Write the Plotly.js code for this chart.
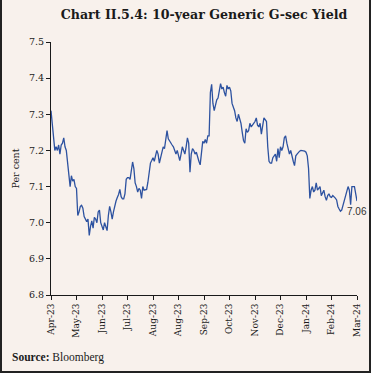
<!DOCTYPE html>
<html>
<head>
<meta charset="utf-8">
<script src="https://cdn.plot.ly/plotly-3.0.1.min.js"></script>
<style>
html, body { margin: 0; padding: 0; background: #f8f1ec; }
#wrap { position: relative; width: 371px; height: 373px; }
#chart { position: absolute; left: 0; top: 0; width: 371px; height: 373px; }
#frame { position: absolute; left: 0; top: 0; width: 371px; height: 373px; box-sizing: border-box;
  border-left: 2px solid #222; border-right: 2px solid #222; border-bottom: 2px solid #222; pointer-events: none; }
</style>
</head>
<body>
<div id="wrap"><div id="chart"></div><div id="frame"></div></div>
<script>
// Tick labels (as printed on the original chart, evenly spaced along the trading-day axis)
const tickLabels = ["Apr-23","May-23","Jun-23","Jul-23","Aug-23","Aug-23","Sep-23","Oct-23","Nov-23","Dec-23","Jan-24","Feb-24","Mar-24"];

// 10-year generic G-sec yield (per cent), one value per trading day, Apr-2023 to Mar-2024
const yieldValues = [
7.31,7.27,7.23,7.20,7.21,7.20,7.215,7.19,7.215,7.22,
7.235,7.21,7.20,7.17,7.14,7.10,7.13,7.115,7.12,7.10,
7.095,7.02,7.03,7.045,7.048,7.04,7.017,7.01,7.003,7.01,
6.965,6.99,7.005,6.985,7.015,7.01,7.00,7.03,7.035,7.00,
6.99,6.98,7.00,6.99,6.978,7.02,7.045,7.03,7.01,7.03,
7.05,7.06,7.07,7.078,7.092,7.072,7.066,7.066,7.08,7.12,
7.125,7.125,7.12,7.15,7.168,7.15,7.11,7.10,7.085,7.095,
7.09,7.067,7.10,7.09,7.09,7.092,7.112,7.14,7.165,7.172,
7.18,7.17,7.19,7.20,7.19,7.165,7.18,7.195,7.21,7.205,
7.23,7.255,7.232,7.225,7.22,7.215,7.21,7.20,7.19,7.20,
7.185,7.172,7.19,7.21,7.20,7.19,7.21,7.235,7.22,7.14,
7.19,7.205,7.20,7.19,7.195,7.18,7.17,7.16,7.19,7.225,
7.22,7.23,7.22,7.24,7.24,7.36,7.383,7.33,7.31,7.33,
7.34,7.345,7.37,7.385,7.37,7.375,7.36,7.35,7.38,7.37,
7.375,7.365,7.33,7.32,7.31,7.29,7.28,7.30,7.29,7.275,
7.25,7.227,7.22,7.26,7.25,7.255,7.275,7.265,7.27,7.275,
7.28,7.29,7.27,7.265,7.275,7.245,7.275,7.29,7.285,7.28,
7.21,7.17,7.165,7.165,7.18,7.185,7.19,7.17,7.205,7.18,
7.21,7.20,7.21,7.235,7.24,7.22,7.20,7.19,7.20,7.18,
7.17,7.158,7.185,7.19,7.195,7.198,7.20,7.20,7.20,7.198,
7.195,7.185,7.15,7.067,7.09,7.10,7.085,7.09,7.11,7.09,
7.095,7.10,7.075,7.085,7.09,7.072,7.062,7.075,7.08,7.072,
7.07,7.075,7.072,7.068,7.063,7.045,7.038,7.032,7.035,7.048,
7.06,7.068,7.085,7.10,7.09,7.05,7.10,7.10,7.10,7.08,
7.06
];
const lastLabel = "7.06";

const dayIndex = yieldValues.map((_, i) => i);
const n = yieldValues.length;
const tickVals = tickLabels.map((_, k) => k * (n - 1) / (tickLabels.length - 1));

const serif = "DejaVu Serif, serif";

const trace = {
  x: dayIndex,
  y: yieldValues,
  type: "scatter",
  mode: "lines",
  line: { color: "#2d52a0", width: 1.3 },
  hoverinfo: "skip"
};

const layout = {
  width: 371,
  height: 373,
  paper_bgcolor: "#f8f1ec",
  plot_bgcolor: "#f8f1ec",
  margin: { l: 51, r: 14, t: 42, b: 78 },
  showlegend: false,
  title: {
    text: "<b>Chart II.5.4: 10-year Generic G-sec Yield</b>",
    font: { family: serif, size: 12.6, color: "#1a1a1a" },
    x: 0.5, xanchor: "center", y: 0.962, yanchor: "middle", xref: "paper"
  },
  xaxis: {
    range: [0, n - 1],
    tickmode: "array",
    tickvals: tickVals,
    ticktext: tickLabels,
    tickangle: -90,
    ticks: "outside",
    ticklen: 4,
    tickcolor: "#1a1a1a",
    tickfont: { family: serif, size: 9, color: "#1a1a1a" },
    showline: true,
    linecolor: "#1a1a1a",
    linewidth: 1,
    showgrid: false,
    zeroline: false,
    fixedrange: true
  },
  yaxis: {
    range: [6.8, 7.5],
    tickvals: [6.8, 6.9, 7.0, 7.1, 7.2, 7.3, 7.4, 7.5],
    tickformat: ".1f",
    ticks: "outside",
    ticklen: 4,
    tickcolor: "#1a1a1a",
    tickfont: { family: serif, size: 9.5, color: "#1a1a1a" },
    showline: true,
    linecolor: "#1a1a1a",
    linewidth: 1,
    showgrid: false,
    zeroline: false,
    fixedrange: true,
    title: { text: "Per cent", font: { family: serif, size: 9.5, color: "#1a1a1a" }, standoff: 7 }
  },
  annotations: [
    {
      x: n - 1, y: yieldValues[n - 1], xref: "x", yref: "y",
      text: lastLabel, showarrow: false,
      xanchor: "center", yanchor: "top", yshift: -3,
      font: { family: "Liberation Sans, Arial, sans-serif", size: 10, color: "#333" }
    },
    {
      x: 0, y: 0, xref: "paper", yref: "paper",
      text: "<b>Source:</b> Bloomberg", showarrow: false,
      xanchor: "left", yanchor: "middle", xshift: -41, yshift: -62,
      font: { family: "Liberation Serif, serif", size: 11.5, color: "#1a1a1a" }
    }
  ]
};

Plotly.newPlot("chart", [trace], layout, { staticPlot: true, displayModeBar: false });
</script>
</body>
</html>
